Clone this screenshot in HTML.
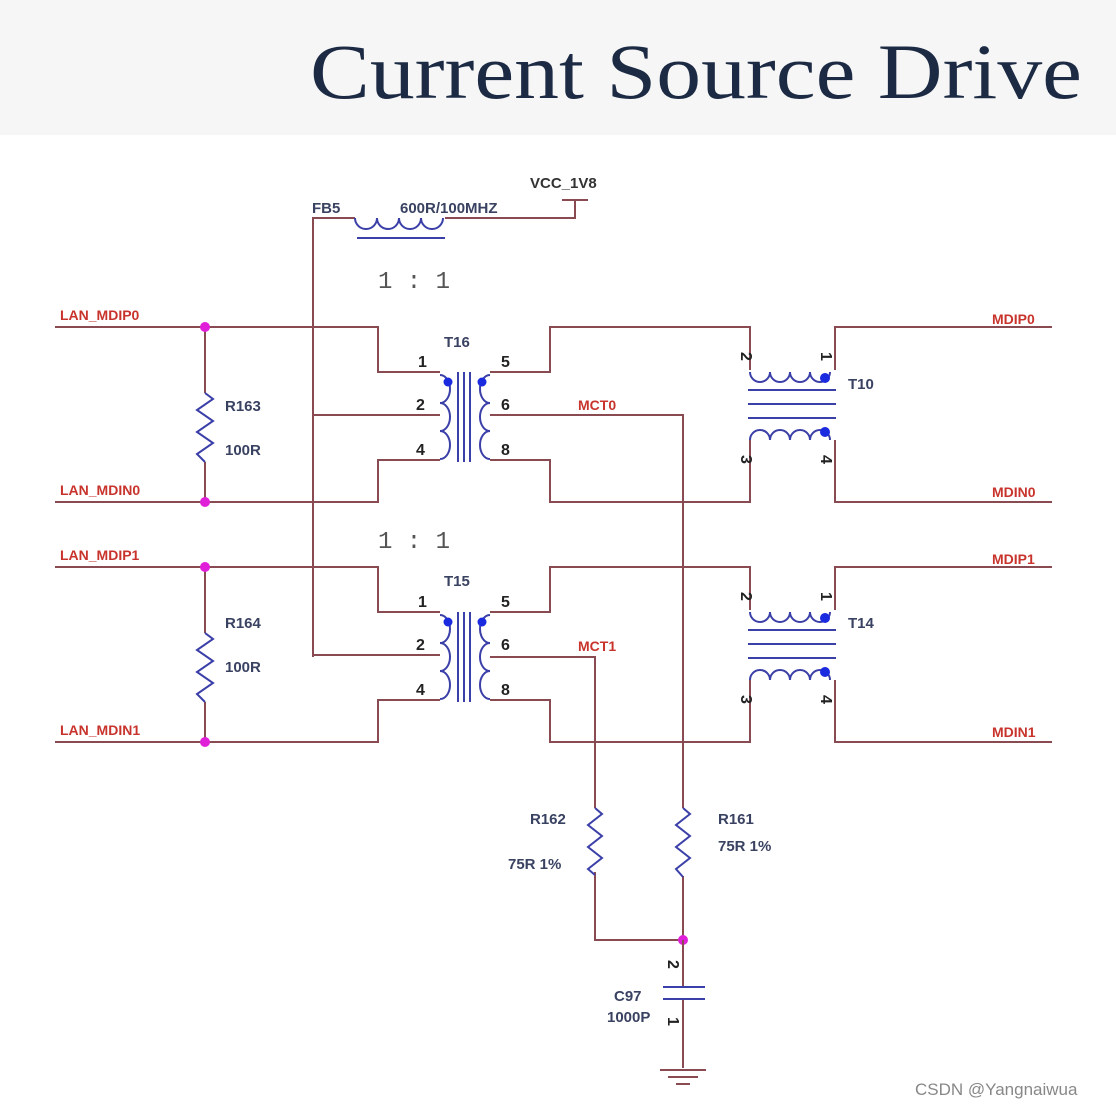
<!DOCTYPE html>
<html><head><meta charset="utf-8"><style>
body{margin:0;background:#fff;}
svg{display:block}
.w{stroke:#8a4a52;stroke-width:2;fill:none}
.b{stroke:#3b3fa8;stroke-width:2;fill:none}
.net{fill:#c8342c;font:bold 14px "Liberation Sans",sans-serif;}
.cmp{fill:#3a4262;font:bold 15px "Liberation Sans",sans-serif;}
.pin{fill:#222;font:bold 16px "Liberation Sans",sans-serif;}
</style></head><body>
<svg width="1116" height="1108" viewBox="0 0 1116 1108" xmlns="http://www.w3.org/2000/svg">
<rect x="0" y="0" width="1116" height="135" fill="#f6f6f6"/>
<text x="310" y="98" font-family="Liberation Serif,serif" font-size="78" fill="#1c2a44" textLength="772" lengthAdjust="spacingAndGlyphs">Current Source Drive</text>

<!-- FB / VCC -->
<path class="w" d="M313 657 V218 H355 M445 218 H575 V200"/>
<path class="w" d="M562 200 H588"/>
<path class="b" d="M355 218 a11 11 0 0 0 22 0 a11 11 0 0 0 22 0 a11 11 0 0 0 22 0 a11 11 0 0 0 22 0 M357 238 H445"/>
<text x="312" y="213" class="cmp" font-size="14">FB5</text>
<text x="400" y="213" class="cmp" font-size="14">600R/100MHZ</text>
<text x="530" y="188" style="fill:#333;font:bold 15px 'Liberation Sans',sans-serif">VCC_1V8</text>
<text x="378" y="288" font-family="Liberation Mono,monospace" font-size="24" fill="#555">1 : 1</text>
<text x="378" y="548" font-family="Liberation Mono,monospace" font-size="24" fill="#555">1 : 1</text>

<!-- two channels -->
<g id="ch">
<path class="w" d="M55 327 H378 V372 H440 M55 502 H378 V460 H440 M313 415 H440 M205 327 V393 M205 462 V502"/>
<path class="b" d="M205 393 l8 6 l-16 11 l16 11 l-16 11 l16 11 l-16 11 l8 8"/>
<circle cx="205" cy="327" r="5" fill="#e020d8"/>
<circle cx="205" cy="502" r="5" fill="#e020d8"/>
<path class="b" d="M440 375 a10 14 0 0 1 0 28 a10 14 0 0 1 0 28 a10 14 0 0 1 0 28 M490 375 a10 14 0 0 0 0 28 a10 14 0 0 0 0 28 a10 14 0 0 0 0 28 M458 372 V462 M464 372 V462 M470 372 V462"/>
<circle cx="448" cy="382" r="4.5" fill="#1a2adf"/>
<circle cx="482" cy="382" r="4.5" fill="#1a2adf"/>
<path class="w" d="M490 372 H550 V327 H750 V370 M490 460 H550 V502 H750 V440 M835 370 V327 H1052 M835 440 V502 H1052"/>
<path class="b" d="M750 372 a10 10 0 0 0 20 0 a10 10 0 0 0 20 0 a10 10 0 0 0 20 0 a10 10 0 0 0 20 0 M750 440 a10 10 0 0 1 20 0 a10 10 0 0 1 20 0 a10 10 0 0 1 20 0 a10 10 0 0 1 20 0 M748 390 H836 M748 404 H836 M748 418 H836"/>
<circle cx="825" cy="378" r="5" fill="#1a2adf"/>
<circle cx="825" cy="432" r="5" fill="#1a2adf"/>
<text x="418" y="367" class="pin">1</text>
<text x="416" y="410" class="pin">2</text>
<text x="416" y="455" class="pin">4</text>
<text x="501" y="367" class="pin">5</text>
<text x="501" y="410" class="pin">6</text>
<text x="501" y="455" class="pin">8</text>
<text x="741" y="352" class="pin" transform="rotate(90 741 352)">2</text>
<text x="821" y="352" class="pin" transform="rotate(90 821 352)">1</text>
<text x="741" y="455" class="pin" transform="rotate(90 741 455)">3</text>
<text x="821" y="455" class="pin" transform="rotate(90 821 455)">4</text>
</g>
<use href="#ch" transform="translate(0,240)"/>

<text x="60" y="320" class="net">LAN_MDIP0</text>
<text x="60" y="495" class="net">LAN_MDIN0</text>
<text x="992" y="324" class="net">MDIP0</text>
<text x="992" y="497" class="net">MDIN0</text>
<text x="225" y="411" class="cmp">R163</text>
<text x="225" y="455" class="cmp">100R</text>
<text x="444" y="347" class="cmp">T16</text>
<text x="848" y="389" class="cmp">T10</text>
<text x="578" y="410" class="net">MCT0</text>
<text x="60" y="560" class="net">LAN_MDIP1</text>
<text x="60" y="735" class="net">LAN_MDIN1</text>
<text x="992" y="564" class="net">MDIP1</text>
<text x="992" y="737" class="net">MDIN1</text>
<text x="225" y="628" class="cmp">R164</text>
<text x="225" y="672" class="cmp">100R</text>
<text x="444" y="586" class="cmp">T15</text>
<text x="848" y="628" class="cmp">T14</text>
<text x="578" y="651" class="net">MCT1</text>

<path class="w" d="M490 415 H683 V808 M683 876 V1068 M490 657 H595 V808 M595 872 V940 H683"/>
<path class="b" d="M683 808 l7 6 l-14 11 l14 11 l-14 11 l14 11 l-14 11 l7 8"/>
<path class="b" d="M595 808 l7 6 l-14 11 l14 11 l-14 11 l14 11 l-14 11 l7 6"/>
<circle cx="683" cy="940" r="5" fill="#e020d8"/>
<rect x="670" y="988" width="26" height="10" fill="#fff"/>
<path class="w" d="M683 940 V986 M683 1000 V1068"/>
<path class="b" d="M663 987 H705 M663 999 H705"/>
<path class="w" d="M660 1070 H706 M668 1077 H698 M676 1084 H690"/>
<text x="530" y="824" class="cmp">R162</text>
<text x="508" y="869" class="cmp">75R 1%</text>
<text x="718" y="824" class="cmp">R161</text>
<text x="718" y="851" class="cmp">75R 1%</text>
<text x="614" y="1001" class="cmp">C97</text>
<text x="607" y="1022" class="cmp">1000P</text>
<text x="668" y="960" class="pin" transform="rotate(90 668 960)">2</text>
<text x="668" y="1017" class="pin" transform="rotate(90 668 1017)">1</text>

<text x="915" y="1095" font-family="Liberation Sans,sans-serif" font-size="17" fill="#888">CSDN @Yangnaiwua</text>
</svg>
</body></html>
